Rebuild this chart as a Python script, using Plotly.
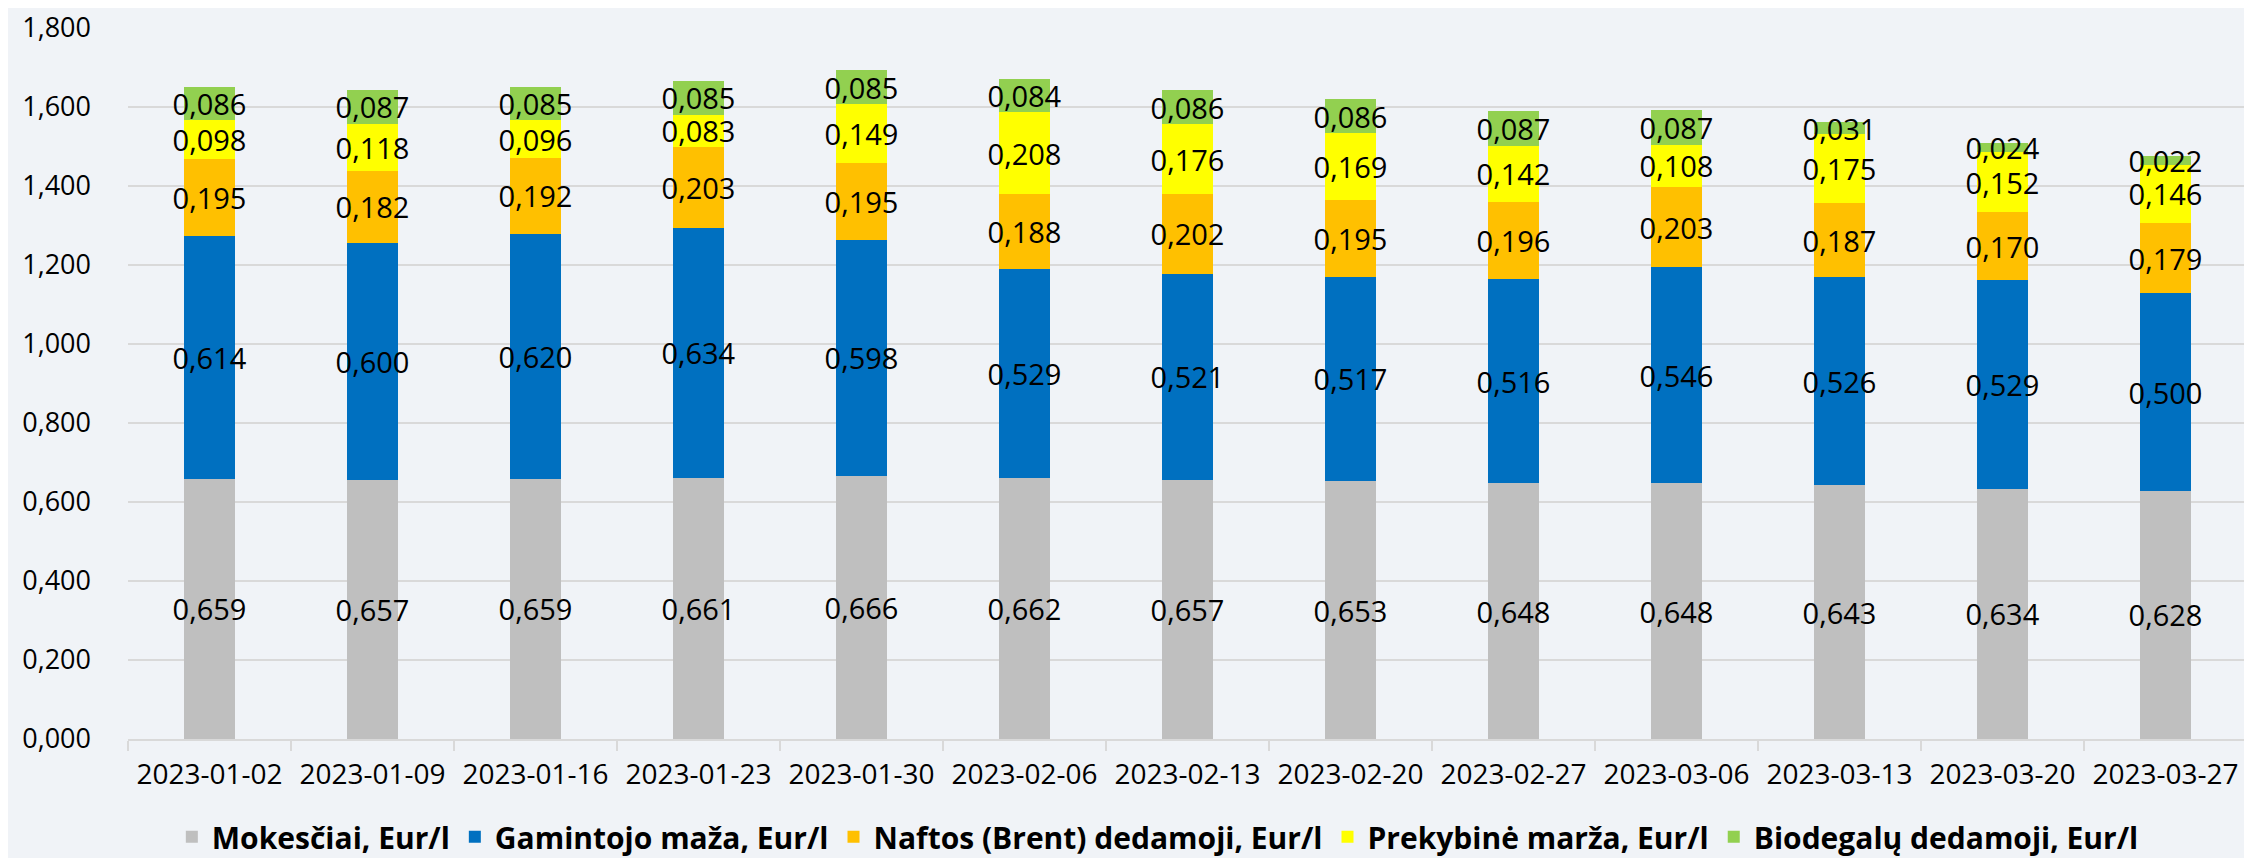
import plotly.graph_objects as go

dates = ["2023-01-02", "2023-01-09", "2023-01-16", "2023-01-23", "2023-01-30", "2023-02-06",
         "2023-02-13", "2023-02-20", "2023-02-27", "2023-03-06", "2023-03-13", "2023-03-20", "2023-03-27"]
mokesciai = [0.659, 0.657, 0.659, 0.661, 0.666, 0.662, 0.657, 0.653, 0.648, 0.648, 0.643, 0.634, 0.628]
gamintojo = [0.614, 0.600, 0.620, 0.634, 0.598, 0.529, 0.521, 0.517, 0.516, 0.546, 0.526, 0.529, 0.500]
naftos = [0.195, 0.182, 0.192, 0.203, 0.195, 0.188, 0.202, 0.195, 0.196, 0.203, 0.187, 0.170, 0.179]
prekybine = [0.098, 0.118, 0.096, 0.083, 0.149, 0.208, 0.176, 0.169, 0.142, 0.108, 0.175, 0.152, 0.146]
biodegalu = [0.086, 0.087, 0.085, 0.085, 0.085, 0.084, 0.086, 0.086, 0.087, 0.087, 0.031, 0.024, 0.022]

series = [
    ("Mokesčiai, Eur/l", mokesciai, "#BFBFBF"),
    ("Gamintojo maža, Eur/l", gamintojo, "#0070C0"),
    ("Naftos (Brent) dedamoji, Eur/l", naftos, "#FFC000"),
    ("Prekybinė marža, Eur/l", prekybine, "#FFFF00"),
    ("Biodegalų dedamoji, Eur/l", biodegalu, "#92D050"),
]

FONT = "Open Sans"
LBL = 29
fig = go.Figure()
for name, vals, color in series:
    fig.add_trace(go.Bar(
        x=dates, y=vals, name=name,
        marker=dict(color=color, line=dict(width=0)),
        texttemplate="%{y:.3f}",
        textposition="inside",
        insidetextanchor="middle",
        textangle=0,
        constraintext="none",
        textfont=dict(color="black", size=LBL, family=FONT),
    ))

fig.update_layout(
    barmode="stack",
    bargap=0.69,
    width=2252, height=858,
    separators=",.",
    paper_bgcolor="#F0F3F7",
    plot_bgcolor="#F0F3F7",
    margin=dict(l=120, r=13, t=20, b=127, autoexpand=False),
    font=dict(family=FONT, size=LBL, color="black"),
    uniformtext=dict(minsize=LBL, mode="show"),
    legend=dict(
        orientation="h", x=0.486, xanchor="center",
        yref="container", y=0.034, yanchor="middle",
        font=dict(size=30, family=FONT, color="black", weight="bold"),
        traceorder="normal", itemwidth=30, tracegroupgap=0,
        bgcolor="rgba(0,0,0,0)",
    ),
    showlegend=True,
)
fig.update_yaxes(
    range=[0, 1.8001], tickmode="array",
    tickvals=[0, 0.2, 0.4, 0.6, 0.8, 1.0, 1.2, 1.4, 1.6, 1.8], tickformat=".3f",
    showgrid=True, gridcolor="#D9D9D9", gridwidth=2,
    zeroline=False, showline=False,
    tickfont=dict(size=27, family=FONT, color="black"),
    ticklabelstandoff=36, ticklabeloverflow="allow",
)
fig.update_xaxes(
    type="category",
    showline=True, linecolor="#D9D9D9", linewidth=2,
    ticks="outside", tickson="boundaries", ticklen=10, tickcolor="#D9D9D9", tickwidth=2,
    tickfont=dict(size=28, family=FONT, color="black"),
    ticklabelstandoff=9,
)

fig.write_html("out.html")
